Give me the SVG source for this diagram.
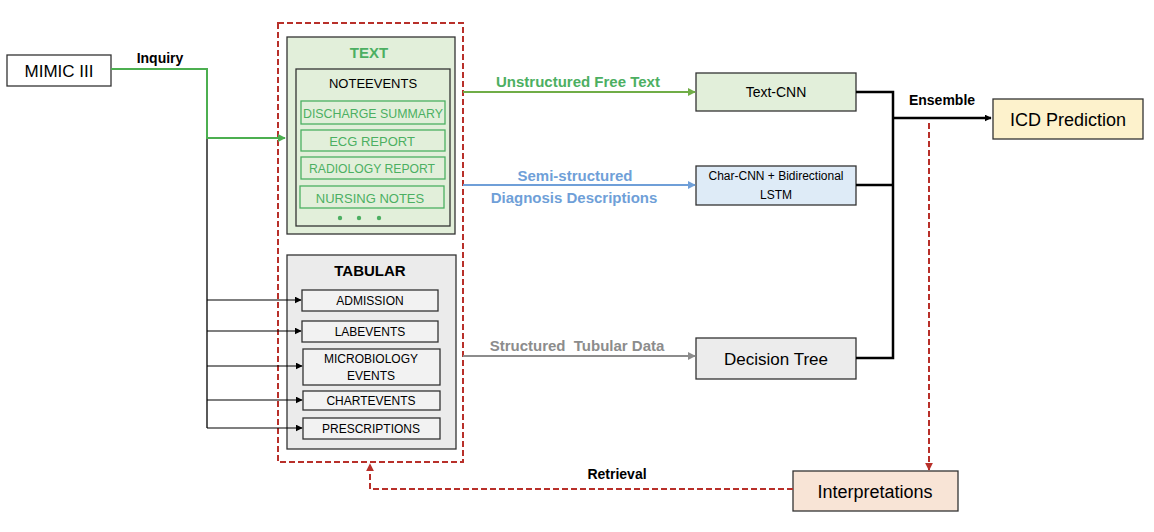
<svg xmlns="http://www.w3.org/2000/svg" width="1154" height="532" viewBox="0 0 1154 532">
<defs>
<style>
text{font-family:"Liberation Sans",Arial,sans-serif;text-anchor:middle;dominant-baseline:central}
.box{stroke:#333;stroke-width:1.3}
.g{fill:#4caf62}
.gb{fill:none;stroke:#4caf62;stroke-width:1.3}
.b{font-weight:bold}
.red{fill:none;stroke:#b8302a;stroke-width:2;stroke-dasharray:6,3}
</style>
<marker id="ak" viewBox="0 0 10 10" refX="9" refY="5" markerWidth="7" markerHeight="7" orient="auto" markerUnits="userSpaceOnUse"><path d="M0,0L10,5L0,10z" fill="#000"/></marker>
<marker id="ag" viewBox="0 0 10 10" refX="9" refY="5" markerWidth="8" markerHeight="8" orient="auto" markerUnits="userSpaceOnUse"><path d="M0,0L10,5L0,10z" fill="#4caf50"/></marker>
<marker id="ag2" viewBox="0 0 10 10" refX="9" refY="5" markerWidth="8" markerHeight="8" orient="auto" markerUnits="userSpaceOnUse"><path d="M0,0L10,5L0,10z" fill="#70ad47"/></marker>
<marker id="ab" viewBox="0 0 10 10" refX="9" refY="5" markerWidth="8" markerHeight="8" orient="auto" markerUnits="userSpaceOnUse"><path d="M0,0L10,5L0,10z" fill="#6f9fd8"/></marker>
<marker id="agr" viewBox="0 0 10 10" refX="9" refY="5" markerWidth="8" markerHeight="8" orient="auto" markerUnits="userSpaceOnUse"><path d="M0,0L10,5L0,10z" fill="#8c8c8c"/></marker>
<marker id="ar" viewBox="0 0 10 10" refX="9" refY="5" markerWidth="8" markerHeight="8" orient="auto" markerUnits="userSpaceOnUse"><path d="M0,0L10,5L0,10z" fill="#b8302a"/></marker>
</defs>
<rect width="1154" height="532" fill="#fff"/>

<g id="mimic">
<rect x="7" y="55" width="104" height="31" fill="#fff" class="box"/>
<text x="59" y="71" font-size="17">MIMIC III</text>
</g>

<g id="source-group">
<rect x="278" y="23" width="185" height="439" class="red"/>
</g>

<g id="text-group">
<rect x="287" y="37" width="168" height="197" fill="#e2efda" class="box"/>
<text x="369" y="52" class="b g" font-size="15">TEXT</text>
<rect x="296" y="69" width="154" height="157" fill="none" class="box"/>
<text x="373" y="83" font-size="13">NOTEEVENTS</text>
<rect x="301" y="101" width="144" height="23" class="gb"/>
<text x="373" y="113" font-size="13" class="g" textLength="140" lengthAdjust="spacingAndGlyphs">DISCHARGE SUMMARY</text>
<rect x="301" y="130" width="144" height="21" class="gb"/>
<text x="372" y="141" font-size="13" class="g">ECG REPORT</text>
<rect x="301" y="157" width="144" height="22" class="gb"/>
<text x="372" y="168" font-size="13" class="g" textLength="126" lengthAdjust="spacingAndGlyphs">RADIOLOGY REPORT</text>
<rect x="300" y="186" width="144" height="22" class="gb"/>
<text x="370" y="198" font-size="13" class="g">NURSING NOTES</text>
<circle cx="340" cy="218" r="2.2" fill="#4caf62"/>
<circle cx="359" cy="218" r="2.2" fill="#4caf62"/>
<circle cx="379" cy="218" r="2.2" fill="#4caf62"/>
</g>

<g id="tabular-group">
<rect x="287" y="255" width="169" height="194" fill="#ebebeb" class="box"/>
<text x="370" y="270" class="b" font-size="15">TABULAR</text>
<rect x="302" y="290" width="136" height="21" fill="#f2f2f2" class="box"/>
<text x="370" y="301" font-size="12">ADMISSION</text>
<rect x="302" y="321" width="136" height="21" fill="#f2f2f2" class="box"/>
<text x="370" y="332" font-size="12">LABEVENTS</text>
<rect x="303" y="349" width="137" height="36" fill="#f2f2f2" class="box"/>
<text x="371" y="359" font-size="12">MICROBIOLOGY</text>
<text x="371" y="376" font-size="12">EVENTS</text>
<rect x="303" y="391" width="137" height="19" fill="#f2f2f2" class="box"/>
<text x="371" y="401" font-size="12">CHARTEVENTS</text>
<rect x="303" y="418" width="137" height="21" fill="#f2f2f2" class="box"/>
<text x="371" y="429" font-size="12">PRESCRIPTIONS</text>
</g>

<g id="textcnn">
<rect x="696" y="73" width="160" height="38" fill="#e2efda" class="box"/>
<text x="776" y="92" font-size="14">Text-CNN</text>
</g>
<g id="charcnn">
<rect x="696" y="166" width="160" height="39" fill="#deebf7" class="box"/>
<text x="776" y="176" font-size="12">Char-CNN + Bidirectional</text>
<text x="776" y="195" font-size="12">LSTM</text>
</g>
<g id="decisiontree">
<rect x="696" y="338" width="160" height="41" fill="#ececec" class="box"/>
<text x="776" y="359" font-size="17">Decision Tree</text>
</g>
<g id="icd">
<rect x="993" y="99" width="150" height="40" fill="#fdf2cc" class="box"/>
<text x="1068" y="120" font-size="18">ICD Prediction</text>
</g>
<g id="interpretations">
<rect x="793" y="471" width="165" height="40" fill="#f8e4d6" class="box"/>
<text x="875" y="492" font-size="18">Interpretations</text>
</g>

<g id="connectors">
<path d="M111,69H207V138H285" fill="none" stroke="#4caf50" stroke-width="2" marker-end="url(#ag)"/>
<path d="M207,139V428" fill="none" stroke="#000" stroke-width="1.3"/>
<path d="M207,300H301" fill="none" stroke="#000" stroke-width="1.2" marker-end="url(#ak)"/>
<path d="M207,331H301" fill="none" stroke="#000" stroke-width="1.2" marker-end="url(#ak)"/>
<path d="M207,366H302" fill="none" stroke="#000" stroke-width="1.2" marker-end="url(#ak)"/>
<path d="M207,400H302" fill="none" stroke="#000" stroke-width="1.2" marker-end="url(#ak)"/>
<path d="M207,428H302" fill="none" stroke="#000" stroke-width="1.2" marker-end="url(#ak)"/>
<path d="M463,92H695" fill="none" stroke="#70ad47" stroke-width="2" marker-end="url(#ag2)"/>
<path d="M463,185H695" fill="none" stroke="#6f9fd8" stroke-width="2" marker-end="url(#ab)"/>
<path d="M463,356H695" fill="none" stroke="#8c8c8c" stroke-width="2" marker-end="url(#agr)"/>
<path d="M856,92H893V358H856M856,185H893" fill="none" stroke="#000" stroke-width="2.5"/>
<path d="M893,118H991" fill="none" stroke="#000" stroke-width="2.5" marker-end="url(#ak)"/>
<path d="M929,123V470" class="red" marker-end="url(#ar)"/>
<path d="M793,489H370V464" class="red" marker-end="url(#ar)"/>
<text x="160" y="58" class="b" font-size="14">Inquiry</text>
<text x="578" y="81" class="b" font-size="15" fill="#4caf62">Unstructured Free Text</text>
<text x="575" y="175" class="b" font-size="15" fill="#6f9fd8">Semi-structured</text>
<text x="574" y="197" class="b" font-size="15" fill="#6f9fd8">Diagnosis Descriptions</text>
<text x="577" y="345" class="b" font-size="15" fill="#8c8c8c" xml:space="preserve">Structured  Tubular Data</text>
<text x="942" y="100" class="b" font-size="14">Ensemble</text>
<text x="617" y="474" class="b" font-size="14">Retrieval</text>
</g>
</svg>
